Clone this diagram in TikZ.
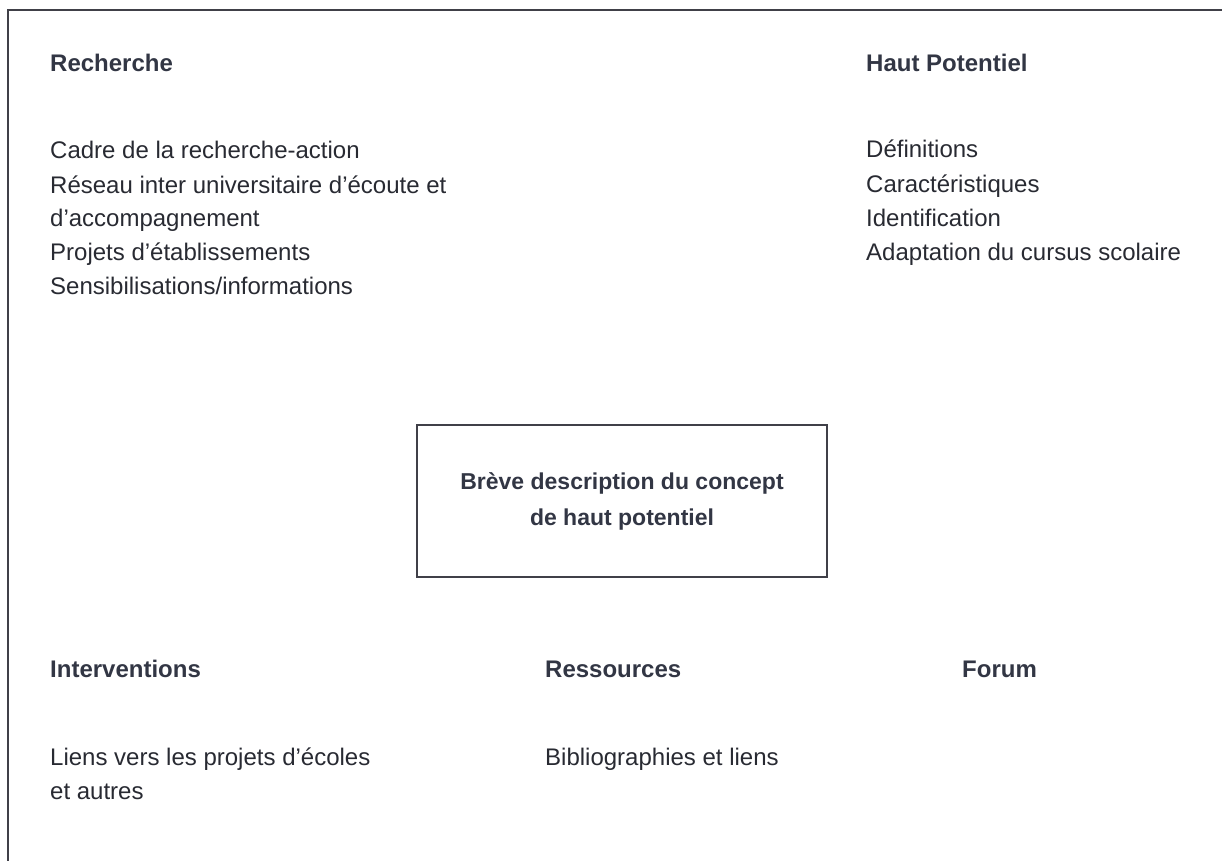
\documentclass[tikz,border=0pt]{standalone}
\usepackage{fontspec}
\setmainfont{Liberation Sans}
\usepackage{tikz}
\definecolor{inkgray}{RGB}{40,42,50}
\definecolor{headgray}{RGB}{50,54,68}
\definecolor{framegray}{RGB}{64,64,72}

\begin{document}
\begin{tikzpicture}[x=1pt, y=1pt,
	every node/.style={inner sep=0pt, anchor=base west, align=left, text=inkgray, font=\fontsize{24}{33.8}\selectfont},
	heading/.style={font=\fontsize{24}{33.8}\selectfont\bfseries, text=headgray},
	conceptbox/.style={draw=framegray, line width=1.2pt, anchor=center, align=center, minimum width=410, minimum height=152, font=\fontsize{23}{36}\selectfont\bfseries, text=headgray}]
	\useasboundingbox (0,0) rectangle (1222,-861);
	% cadre de la page
	\draw[framegray, line width=1.5pt] (1222,-10) -- (8,-10) -- (8,-861);
	% Recherche (base = derniere ligne pour les noeuds sur deux lignes)
	\node[heading] (recherche) at (50,-72) {Recherche};
	\node (cadre) at (50,-159) {Cadre de la recherche-action};
	\node (reseau) at (50,-226.8) {Réseau inter universitaire d’écoute et\\d’accompagnement};
	\node (projets) at (50,-260.6) {Projets d’établissements};
	\node (sensib) at (50,-294.4) {Sensibilisations/informations};
	% Haut Potentiel
	\node[heading] (hautpot) at (866,-72) {Haut Potentiel};
	\node (definitions) at (866,-158) {Définitions};
	\node (caracteristiques) at (866,-192) {Caractéristiques};
	\node (identification) at (866,-226) {Identification};
	\node (adaptation) at (866,-260) {Adaptation du cursus scolaire};
	% concept
	\node[conceptbox] (concept) at (622,-501) {Brève description du concept\\de haut potentiel};
	% Interventions, Ressources, Forum
	\node[heading] (interventions) at (50,-677) {Interventions};
	\node (liens) at (50,-799) {Liens vers les projets d’écoles\\et autres};
	\node[heading] (ressources) at (545,-677) {Ressources};
	\node (biblio) at (545,-765) {Bibliographies et liens};
	\node[heading] (forum) at (962,-677) {Forum};
\end{tikzpicture}
\end{document}
